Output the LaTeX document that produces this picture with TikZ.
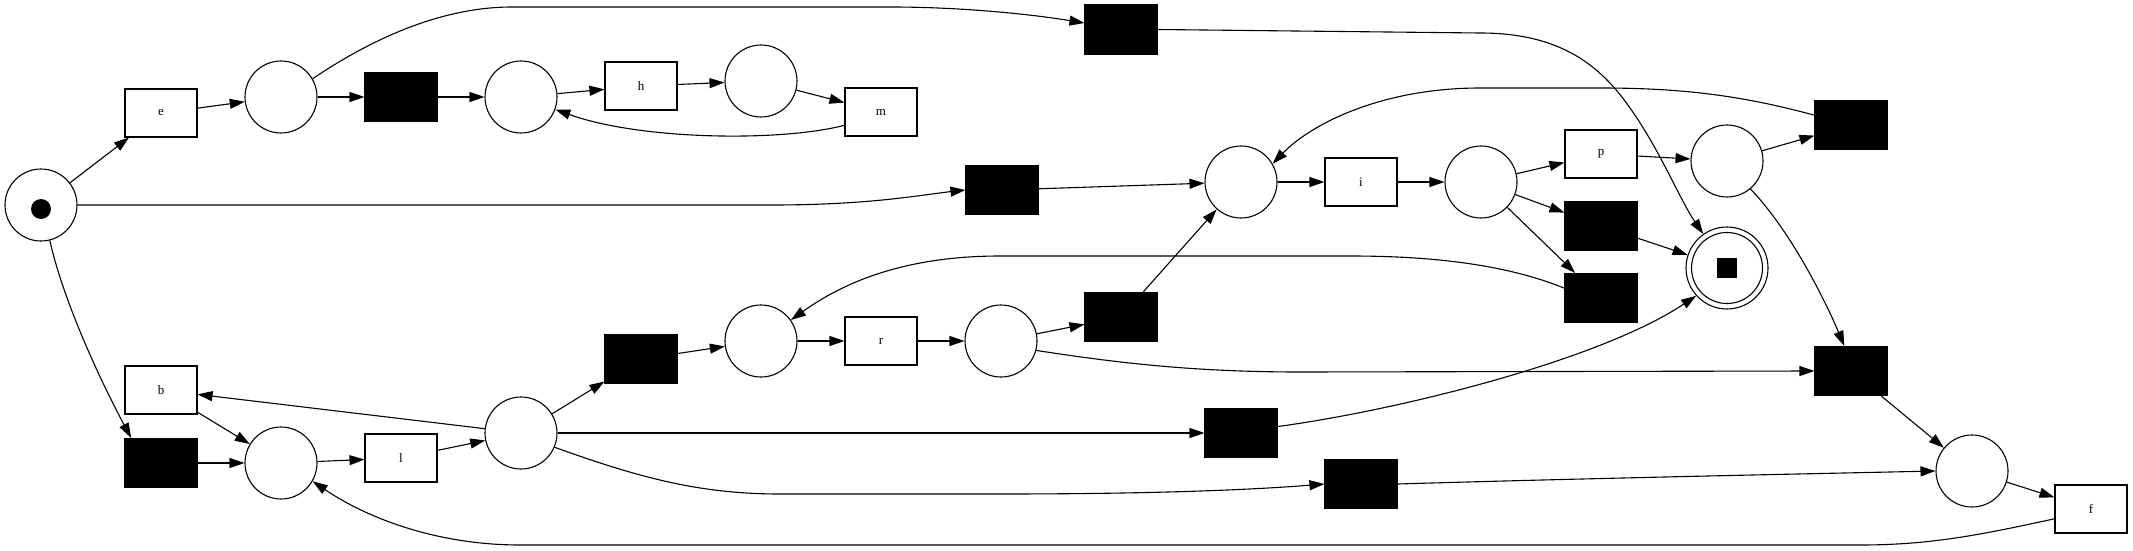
\documentclass[tikz,border=0pt]{standalone}
\usepackage{fontspec}
\setmainfont{Liberation Serif}
\usetikzlibrary{arrows.meta}
\begin{document}
\begin{tikzpicture}[x=1pt,y=-1pt,line width=1.1pt,
  place/.style={circle,draw,minimum size=72pt,inner sep=0pt},
  trans/.style={rectangle,draw,minimum width=72pt,minimum height=48pt,inner sep=0pt,font=\fontsize{13}{15}\selectfont},
  silent/.style={rectangle,draw,fill=black,minimum width=72pt,minimum height=49pt,inner sep=0pt},
  arc/.style={-{Triangle[length=15pt,width=10pt]}}]
\useasboundingbox (0,0) rectangle (2133,551);
% places and transitions
\node[place] (p0) at (41,205) {};
\node[circle,fill=black,minimum size=20pt,inner sep=0pt] (tok) at (41,209) {};
\node[trans] (e) at (161,113) {e};
\node[place] (p1) at (281,97) {};
\node[silent] (t1) at (401,97) {};
\node[place] (p2) at (521,97) {};
\node[trans] (h) at (641,86) {h};
\node[place] (p3) at (761,81) {};
\node[trans] (m) at (881,112) {m};
\node[silent] (ttop) at (1121,29.5) {};
\node[silent] (tmid) at (1002,190) {};
\node[place] (p4) at (1241,182) {};
\node[trans] (i) at (1361,182) {i};
\node[place] (p5) at (1481,182) {};
\node[trans] (p) at (1601,154) {p};
\node[place] (p6) at (1727,161) {};
\node[silent] (tru) at (1851,125) {};
\node[silent] (tbp) at (1601,226) {};
\node[silent] (tbl) at (1601,298) {};
\node[circle,draw,minimum size=82pt,inner sep=0pt] (final) at (1727,268) {};
\node[circle,draw,minimum size=71pt,inner sep=0pt] (finalin) at (1727,268) {};
\node[rectangle,fill=black,minimum size=20pt,inner sep=0pt] (finaltok) at (1727,268) {};
\node[trans] (b) at (161,390) {b};
\node[silent] (tl) at (161,463) {};
\node[place] (p7) at (281,463) {};
\node[trans] (l) at (401,458) {l};
\node[place] (p8) at (521,433) {};
\node[silent] (tup) at (641,359) {};
\node[place] (p9) at (761,341) {};
\node[trans] (r) at (881,341) {r};
\node[place] (p10) at (1001,341) {};
\node[silent] (tp10) at (1121,317) {};
\node[silent] (trl) at (1851,371) {};
\node[silent] (tml) at (1241,433) {};
\node[silent] (tbot) at (1361,484) {};
\node[place] (pf) at (1972,471) {};
\node[trans] (f) at (2091,509) {f};
% arcs
\draw[arc] (p0) -- (e);
\draw[arc] (p0.east) -- (772,205) .. controls (870,205) and (920,195) .. (tmid.west);
\draw[arc] (p0.-76) .. controls (63,300) and (100,380) .. (tl.140);
\draw[arc] (e) -- (p1);
\draw[arc] (p1) -- (t1);
\draw[arc] (t1) -- (p2);
\draw[arc] (p2) -- (h);
\draw[arc] (h) -- (p3);
\draw[arc] (p3) -- (m);
\draw[arc] (m.200) .. controls (780,142) and (640,140) .. (p2.-20);
\draw[arc] (p1.30) .. controls (370,40) and (440,7) .. (512,7) -- (891,7) .. controls (960,7) and (1030,14) .. (ttop.170);
\draw[arc] (ttop.east) -- (1480,33) .. controls (1560,33) and (1600,65) .. (1630,108) .. controls (1660,150) and (1680,200) .. (final.125);
\draw[arc] (tmid) -- (p4);
\draw[arc] (p4) -- (i);
\draw[arc] (i) -- (p5);
\draw[arc] (p5) -- (p);
\draw[arc] (p5) -- (tbp);
\draw[arc] (p5) -- (tbl);
\draw[arc] (p) -- (p6);
\draw[arc] (p6) -- (tru);
\draw[arc] (tru.165) .. controls (1740,95) and (1680,88) .. (1600,88) -- (1480,88) .. controls (1380,88) and (1310,125) .. (p4.30);
\draw[arc] (p6.-50) .. controls (1790,230) and (1825,300) .. (trl.105);
\draw[arc] (tbp) -- (final);
\draw[arc] (tbl.165) .. controls (1500,262) and (1420,256) .. (1350,256) -- (1000,256) .. controls (900,256) and (840,285) .. (p9.35);
\draw[arc] (tl) -- (p7);
\draw[arc] (b) -- (p7);
\draw[arc] (p7) -- (l);
\draw[arc] (l) -- (p8);
\draw[arc] (p8) -- (b);
\draw[arc] (p8) -- (tup);
\draw[arc] (p8) -- (tml);
\draw[arc] (p8.-23) .. controls (640,478) and (700,494) .. (780,494) -- (1000,494) .. controls (1150,494) and (1250,490) .. (tbot.west);
\draw[arc] (tup) -- (p9);
\draw[arc] (p9) -- (r);
\draw[arc] (r) -- (p10);
\draw[arc] (p10) -- (tp10);
\draw[arc] (p10.-15) .. controls (1100,360) and (1180,372) .. (1300,372) -- (trl.west);
\draw[arc] (tp10) -- (p4);
\draw[arc] (tml.10) .. controls (1400,410) and (1600,360) .. (final.222);
\draw[arc] (tbot.east) .. controls (1600,478) and (1800,474) .. (pf.west);
\draw[arc] (trl) -- (pf);
\draw[arc] (pf) -- (f);
\draw[arc] (f.195) .. controls (1980,535) and (1930,545) .. (1860,545) -- (520,545) .. controls (440,545) and (370,520) .. (p7.-30);
\end{tikzpicture}
\end{document}
